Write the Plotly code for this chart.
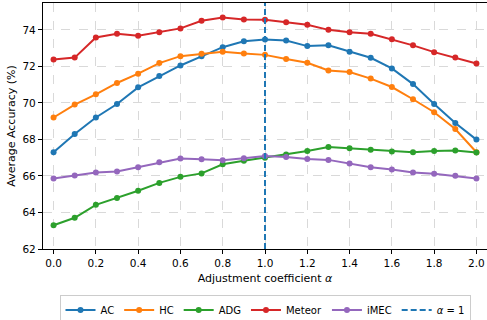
import plotly.graph_objects as go

alpha = [0.0, 0.1, 0.2, 0.3, 0.4, 0.5, 0.6, 0.7, 0.8, 0.9, 1.0,
         1.1, 1.2, 1.3, 1.4, 1.5, 1.6, 1.7, 1.8, 1.9, 2.0]
ac = [67.30, 68.30, 69.20, 69.94, 70.85, 71.47, 72.05, 72.55, 73.05, 73.37, 73.47,
      73.42, 73.11, 73.15, 72.80, 72.47, 71.89, 71.03, 69.94, 68.90, 67.99]
hc = [69.20, 69.91, 70.47, 71.09, 71.60, 72.18, 72.56, 72.69, 72.80, 72.71, 72.63,
      72.40, 72.20, 71.78, 71.69, 71.33, 70.87, 70.20, 69.49, 68.57, 67.30]
adg = [63.30, 63.71, 64.42, 64.79, 65.19, 65.62, 65.95, 66.14, 66.64, 66.83, 67.00,
       67.17, 67.37, 67.59, 67.52, 67.43, 67.34, 67.30, 67.37, 67.39, 67.28]
meteor = [72.37, 72.48, 73.58, 73.79, 73.68, 73.87, 74.08, 74.50, 74.68, 74.57, 74.55,
          74.42, 74.28, 74.00, 73.87, 73.79, 73.48, 73.15, 72.78, 72.49, 72.16]
imec = [65.86, 66.03, 66.19, 66.24, 66.48, 66.75, 66.95, 66.92, 66.86, 66.97, 67.09,
        67.04, 66.93, 66.88, 66.68, 66.48, 66.35, 66.19, 66.12, 66.01, 65.86]

series = [("AC", ac, "#1f77b4"), ("HC", hc, "#ff7f0e"), ("ADG", adg, "#2ca02c"),
          ("Meteor", meteor, "#d62728"), ("iMEC", imec, "#9467bd")]

y_range = [62, 75.47]
x_ticks = [0.0, 0.2, 0.4, 0.6, 0.8, 1.0, 1.2, 1.4, 1.6, 1.8, 2.0]
y_ticks = [62, 64, 66, 68, 70, 72, 74]

fig = go.Figure()
for name, vals, col in series:
    fig.add_trace(go.Scatter(x=alpha, y=vals, name=name, mode="lines+markers",
                             line=dict(color=col, width=2),
                             marker=dict(color=col, size=6, symbol="circle")))

fig.add_trace(go.Scatter(x=[1.0, 1.0], y=y_range, name="<i>α</i> = 1", mode="lines",
                         line=dict(color="#1f77b4", width=2, dash="6px,3px")))

font = "DejaVu Sans, sans-serif"
fig.update_layout(
    width=487, height=320,
    margin=dict(l=43, r=0, t=3, b=71, autoexpand=False),
    paper_bgcolor="white", plot_bgcolor="white",
    font=dict(family=font, size=10.5, color="black"),
    showlegend=True,
    legend=dict(orientation="h", x=0.5, xanchor="center", y=-0.185, yanchor="top",
                bordercolor="#cccccc", borderwidth=1, font=dict(size=10),
                itemwidth=30, tracegroupgap=0),
    xaxis=dict(range=[-0.05, 2.05], tickvals=x_ticks, ticktext=[f"{v:.1f}" for v in x_ticks],
               showgrid=True, gridcolor="#d9d9d9", griddash="dash", gridwidth=0.8,
               showline=True, linecolor="black", linewidth=1.2, mirror=True,
               ticks="outside", ticklen=4, tickcolor="black", zeroline=False,
               automargin=False,
               title=dict(text="Adjustment coefficient <i>α</i>", font=dict(size=11), standoff=6)),
    yaxis=dict(range=y_range, tickvals=y_ticks,
               showgrid=True, gridcolor="#d9d9d9", griddash="dash", gridwidth=0.8,
               showline=True, linecolor="black", linewidth=1.2, mirror=True,
               ticks="outside", ticklen=4, tickcolor="black", zeroline=False,
               automargin=False,
               title=dict(text="Average Accuracy (%)", font=dict(size=11), standoff=4)),
)

fig.write_html("out.html", config={"displayModeBar": False},
               post_script="document.body.style.margin='0';document.body.style.overflow='hidden';")
